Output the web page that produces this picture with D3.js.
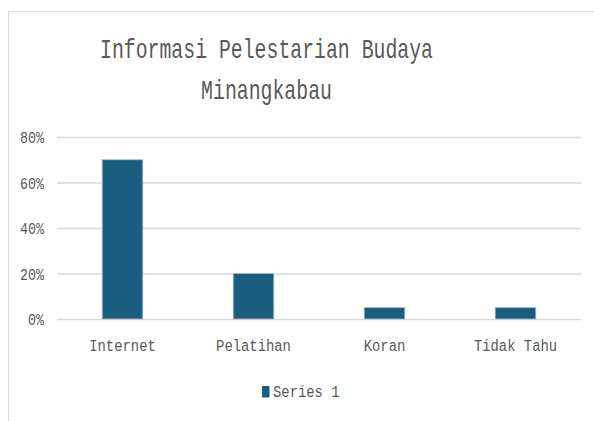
<!DOCTYPE html>
<html>
<head>
<meta charset="utf-8">
<script src="https://cdn.jsdelivr.net/npm/d3@7"></script>
<style>
  html, body { margin: 0; padding: 0; background: #fff; }
  svg { display: block; }
  text { font-family: "Liberation Mono", "DejaVu Sans Mono", monospace; fill: #595959; }
</style>
</head>
<body>
<div class="chart"></div>
<script>
// ----------------------------------
// DATA
// ----------------------------------
const categories = ['Internet', 'Pelatihan', 'Koran', 'Tidak Tahu'];
const values = [0.70, 0.20, 0.05, 0.05];
const yTicks = [0, 0.2, 0.4, 0.6, 0.8];
const titleLines = ['Informasi Pelestarian Budaya', 'Minangkabau'];
const seriesName = 'Series 1';

const width = 594, height = 421;
const margin = { top: 137, right: 13, bottom: 102, left: 57 };
const innerWidth = width - margin.left - margin.right,
      innerHeight = height - margin.top - margin.bottom;
const barColor = '#195e80';

// squeeze the mono font sideways so it looks like the narrow one in the original
function condense(sel, perChar) {
  sel.each(function () {
    const t = d3.select(this);
    const natural = this.getComputedTextLength();
    const k = (t.text().length * perChar) / natural;
    const x = +t.attr('x') || 0;
    t.attr('x', 0).attr('transform', `translate(${x},0) scale(${k},1)`);
  });
}

const svg = d3.select('.chart').append('svg')
  .attr('width', width)
  .attr('height', height);

// chart area frame (only the top and left edges are inside the picture)
svg.append('path')
  .attr('d', `M8.5,${height}V11.5H${width}`)
  .attr('fill', 'none')
  .attr('stroke', '#d9d9d9');

// ----------------------------------
// SCALES
// ----------------------------------
const xScale = d3.scaleBand()
  .domain(categories)
  .range([0, innerWidth])
  .paddingInner(0.69)
  .paddingOuter(0.345);

const yScale = d3.scaleLinear()
  .domain([0, 0.8])
  .range([innerHeight, 0]);

const g = svg.append('g')
  .attr('transform', `translate(${margin.left},${margin.top})`);

// gridlines via axis
const yAxis = d3.axisLeft(yScale)
  .tickValues(yTicks)
  .tickSize(-innerWidth)
  .tickPadding(14)
  .tickFormat(d3.format('.0%'));

const yG = g.append('g').attr('class', 'y axis').call(yAxis)
  .attr('font-size', null).attr('font-family', null);
yG.select('.domain').remove();
yG.selectAll('.tick line').attr('stroke', '#d9d9d9').attr('stroke-width', 1.5);
yG.selectAll('.tick text')
  .attr('font-size', 17)
  .attr('dy', '0.35em')
  .attr('x', -13)
  .call(condense, 8);

// bars
g.selectAll('.bar')
  .data(values)
  .enter()
  .append('rect')
  .attr('class', 'bar')
  .attr('x', (d, i) => xScale(categories[i]))
  .attr('y', d => yScale(d))
  .attr('width', xScale.bandwidth())
  .attr('height', d => yScale(0) - yScale(d))
  .attr('fill', barColor)
  .attr('stroke', '#a9bccb')
  .attr('stroke-width', 0.8);

// x axis
const xAxis = d3.axisBottom(xScale).tickSize(0).tickPadding(20);
const xG = g.append('g')
  .attr('class', 'x axis')
  .attr('transform', `translate(0,${innerHeight})`)
  .call(xAxis)
  .attr('font-size', null).attr('font-family', null);
xG.select('.domain').remove();
xG.selectAll('.tick text')
  .attr('font-size', 17)
  .call(condense, 8.33);

// ----------------------------------
// TITLE
// ----------------------------------
svg.append('g').selectAll('text')
  .data(titleLines)
  .enter()
  .append('text')
  .attr('x', 266.5)
  .attr('y', (d, i) => 58 + i * 41)
  .attr('text-anchor', 'middle')
  .attr('font-size', 27)
  .text(d => d)
  .call(condense, 11.9);

// ----------------------------------
// LEGEND
// ----------------------------------
const legend = svg.append('g').attr('transform', 'translate(262,386)');
legend.append('rect')
  .attr('width', 7.5).attr('height', 11.5)
  .attr('fill', barColor);
legend.append('text')
  .attr('x', 11).attr('y', 11)
  .attr('font-size', 17)
  .text(seriesName)
  .call(condense, 8.33);
</script>
</body>
</html>
